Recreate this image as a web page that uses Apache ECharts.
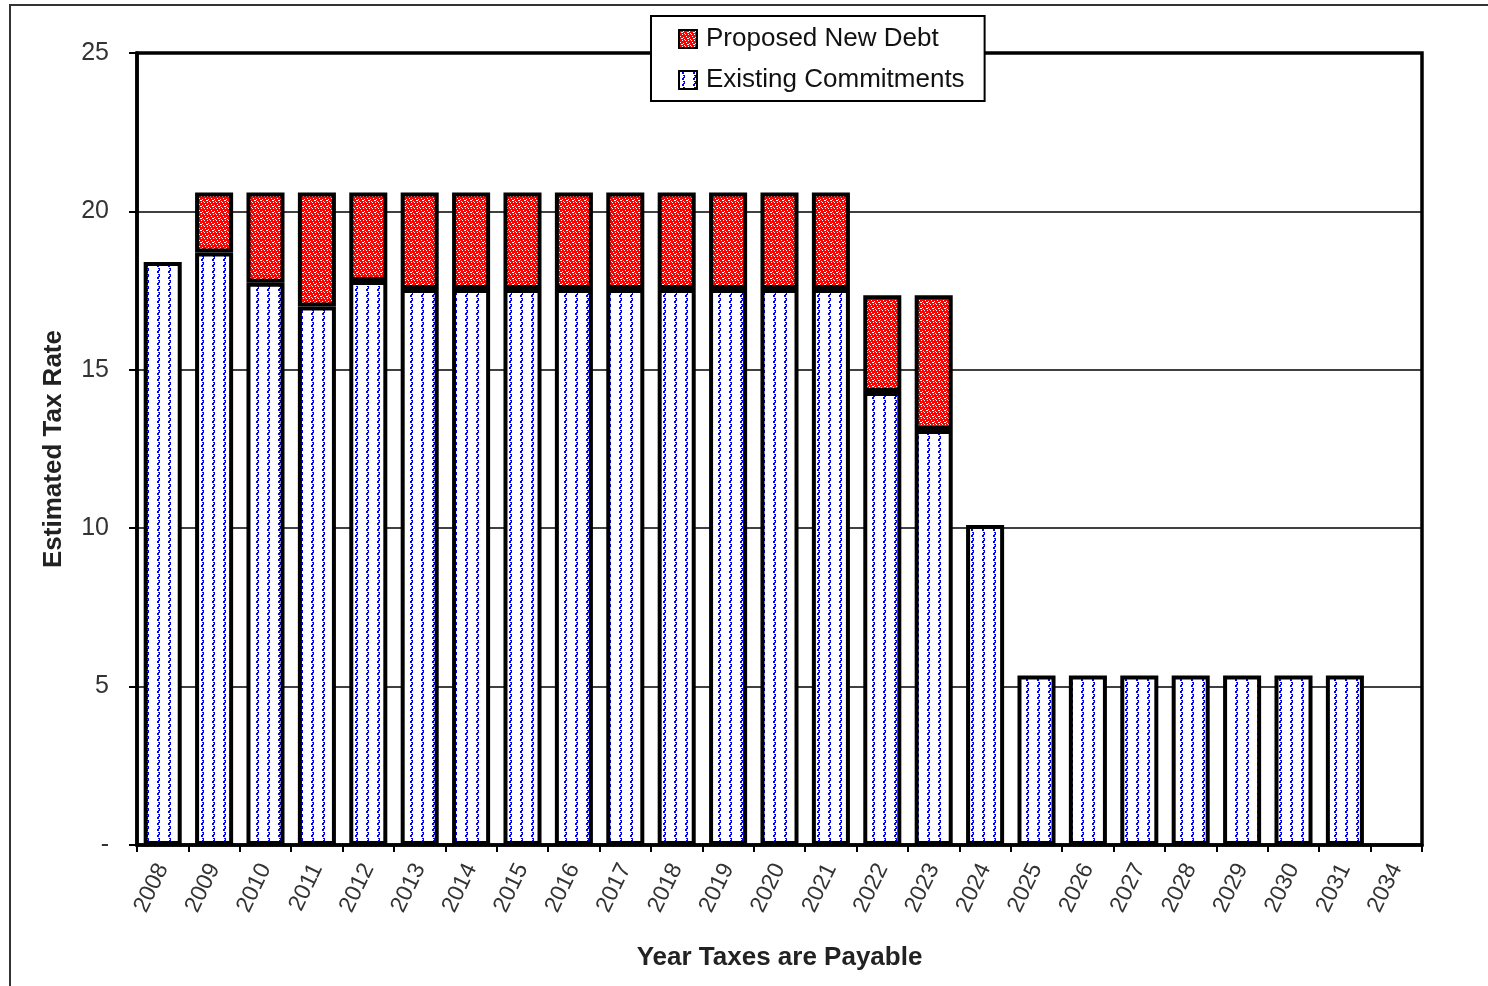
<!DOCTYPE html>
<html>
<head>
    <meta charset="utf-8">
    <title>Estimated Tax Rate</title>
    <script src="https://cdn.jsdelivr.net/npm/echarts@6/dist/echarts.min.js"></script>
    <style>
        html, body { margin: 0; padding: 0; background: #fff; }
        #chart1 { width: 1488px; height: 986px; }
    </style>
</head>
<body>
<div id="chart1"></div>
<script>
    // 数据
    var years = ['2008', '2009', '2010', '2011', '2012', '2013', '2014', '2015', '2016', '2017', '2018', '2019',
        '2020', '2021', '2022', '2023', '2024', '2025', '2026', '2027', '2028', '2029', '2030', '2031', '2034'];
    var existingCommitments = [18.4, 18.7, 17.75, 17.0, 17.8, 17.55, 17.55, 17.55, 17.55, 17.55, 17.55, 17.55,
        17.55, 17.55, 14.3, 13.1, 10.1, 5.35, 5.35, 5.35, 5.35, 5.35, 5.35, 5.35, null];
    var proposedNewDebt = [null, 1.9, 2.85, 3.6, 2.8, 3.05, 3.05, 3.05, 3.05, 3.05, 3.05, 3.05,
        3.05, 3.05, 3.05, 4.25, null, null, null, null, null, null, null, null, null];
    var yTicks = [0, 5, 10, 15, 20, 25];

    // 蓝色波点图案
    function bluePattern() {
        var c = document.createElement('canvas');
        c.width = 11; c.height = 6;
        var g = c.getContext('2d');
        g.fillStyle = '#fff';
        g.fillRect(0, 0, 11, 6);
        g.fillStyle = '#0000ff';
        var pts = [[4, 0], [5, 0], [3, 1], [4, 1], [3, 2], [4, 2], [4, 4], [5, 4], [5, 5]];
        pts.forEach(function (p) { g.fillRect(p[0], p[1], 1, 1); });
        return c;
    }
    // 红色斑点图案
    function redPattern() {
        var c = document.createElement('canvas');
        c.width = 6; c.height = 6;
        var g = c.getContext('2d');
        g.fillStyle = '#ff0000';
        g.fillRect(0, 0, 6, 6);
        g.fillStyle = '#ffffff';
        g.fillRect(1, 0, 1, 1); g.fillRect(4, 1, 1, 1); g.fillRect(2, 2, 2, 1);
        g.fillRect(0, 4, 1, 1); g.fillRect(3, 4, 1, 1); g.fillRect(5, 3, 1, 1);
        return c;
    }

    var font = 'Liberation Sans, Arial, sans-serif';
    var myChart1 = echarts.init(document.getElementById('chart1'));
    myChart1.setOption({
        backgroundColor: '#fff',
        animation: false,
        graphic: [{
            type: 'polyline',
            shape: { points: [[10, 986], [10, 5], [1488, 5]] },
            style: { stroke: '#333', lineWidth: 2, fill: null }
        }],
        legend: {
            orient: 'vertical',
            left: 651,
            top: 16,
            data: [
                { name: 'Proposed New Debt', itemStyle: { borderWidth: 2 } },
                { name: 'Existing Commitments', itemStyle: { borderWidth: 2 } }
            ],
            icon: 'rect',
            backgroundColor: '#fff',
            borderColor: '#000',
            borderWidth: 2,
            padding: [10, 20, 8, 27],
            itemGap: 15,
            itemWidth: 18,
            itemHeight: 18,
            textStyle: { fontFamily: font, fontSize: 26, color: '#111', padding: [0, 0, 0, 4] }
        },
        grid: {
            left: 137,
            right: 66,
            top: 53,
            bottom: 141,
            show: true,
            borderColor: '#000',
            borderWidth: 3.5
        },
        xAxis: {
            type: 'category',
            data: years,
            name: 'Year Taxes are Payable',
            nameLocation: 'middle',
            nameGap: 100,
            nameTextStyle: { fontFamily: font, fontSize: 26, fontWeight: 'bold', color: '#222' },
            axisLine: { lineStyle: { color: '#000', width: 3.5 } },
            axisTick: { show: true, length: 7, lineStyle: { color: '#000', width: 2 } },
            axisLabel: {
                rotate: 64,
                margin: 20,
                fontFamily: font,
                fontSize: 23,
                color: '#333'
            }
        },
        yAxis: {
            type: 'value',
            min: 0,
            max: 25,
            interval: 5,
            name: 'Estimated Tax Rate',
            nameLocation: 'middle',
            nameGap: 70,
            nameTextStyle: { fontFamily: font, fontSize: 26, fontWeight: 'bold', color: '#222' },
            axisLine: { show: true, lineStyle: { color: '#000', width: 3.5 } },
            axisTick: { show: true, length: 8, lineStyle: { color: '#000', width: 2 } },
            splitLine: { lineStyle: { color: '#000', width: 1.5 } },
            axisLabel: {
                margin: 28,
                fontFamily: font,
                fontSize: 25,
                color: '#333',
                formatter: function (v) { return yTicks.indexOf(v) === 0 ? '-' : String(v); }
            }
        },
        series: [{
            name: 'Existing Commitments',
            type: 'bar',
            stack: 'rate',
            barWidth: '74%',
            data: existingCommitments,
            itemStyle: {
                color: { image: bluePattern(), repeat: 'repeat' },
                borderColor: '#000',
                borderWidth: 4
            }
        }, {
            name: 'Proposed New Debt',
            type: 'bar',
            stack: 'rate',
            data: proposedNewDebt,
            itemStyle: {
                color: { image: redPattern(), repeat: 'repeat' },
                borderColor: '#000',
                borderWidth: 4
            }
        }]
    });
</script>
</body>
</html>
